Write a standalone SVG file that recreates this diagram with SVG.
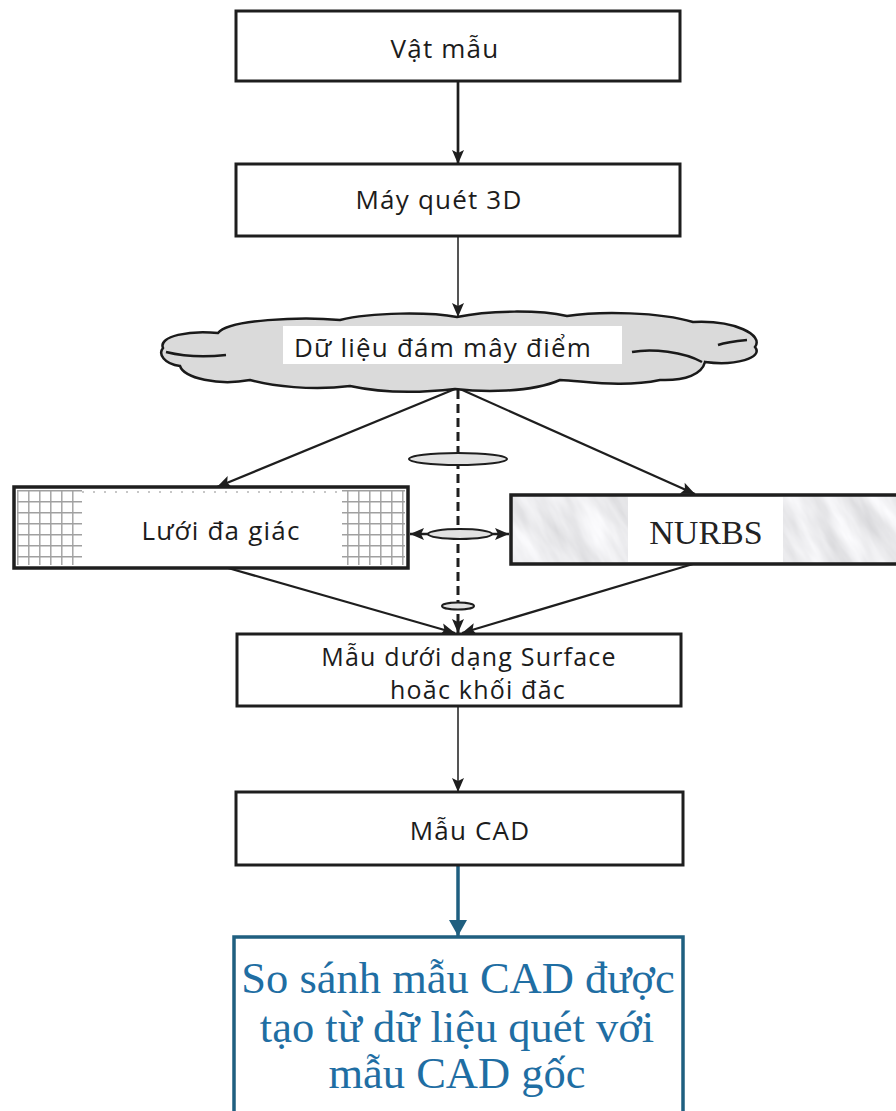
<svg xmlns="http://www.w3.org/2000/svg" width="896" height="1111" viewBox="0 0 896 1111">
  <style>
    .box { fill: #ffffff; stroke: #1e1e1e; stroke-width: 3; }
    .lbl { font-family: "Open Sans", "Noto Sans", "DejaVu Sans", sans-serif; font-size: 26px; letter-spacing: 1.2px; fill: #1c1c1c; }
    .lbl-sm { font-size: 25px; }
    .conn { fill: none; stroke: #1e1e1e; stroke-width: 2.2; }
    .conn-bold { fill: none; stroke: #1e1e1e; stroke-width: 2.7; }
    .conn-grey { fill: none; stroke: #555555; stroke-width: 2; }
    .conn-dash { fill: none; stroke: #1e1e1e; stroke-width: 3; stroke-dasharray: 9 5; }
    .conn-blue { fill: none; stroke: #1f5f80; stroke-width: 3.5; }
    .lens { fill: #e2e2e2; stroke: #1e1e1e; stroke-width: 2; }
    .blue-txt { font-family: "Liberation Serif", "DejaVu Serif", serif; font-size: 44.5px; fill: #1f6ea3; }
  </style>
  <defs>
    <marker id="arr" markerUnits="userSpaceOnUse" markerWidth="16" markerHeight="16" viewBox="0 0 16 16" refX="15" refY="8" orient="auto">
      <path d="M1,2 L15,8 L1,14 L4,8 Z" fill="#1e1e1e"/>
    </marker>
    <marker id="arr-start" markerUnits="userSpaceOnUse" markerWidth="16" markerHeight="16" viewBox="0 0 16 16" refX="1" refY="8" orient="auto">
      <path d="M15,2 L1,8 L15,14 L12,8 Z" fill="#1e1e1e"/>
    </marker>
    <marker id="arr-blue" markerUnits="userSpaceOnUse" markerWidth="20" markerHeight="20" viewBox="0 0 20 20" refX="18" refY="10" orient="auto">
      <path d="M2,1 L18,10 L2,19 Z" fill="#1f5f80"/>
    </marker>
    <pattern id="grid" width="11" height="11" patternUnits="userSpaceOnUse" x="17" y="490">
      <path d="M0,0.8 H11 M0.8,0 V11" stroke="#a0a0a0" stroke-width="1.4" fill="none"/>
    </pattern>
    <filter id="marble" x="0" y="0" width="1" height="1">
      <feTurbulence type="fractalNoise" baseFrequency="0.05 0.012" numOctaves="4" seed="7"/>
      <feColorMatrix type="matrix" values="0.4 0 0 0 0.64  0.4 0 0 0 0.64  0.4 0 0 0 0.66  0 0 0 0 1"/>
    </filter>
    <clipPath id="nurbs-clip">
      <rect x="511" y="495" width="400" height="69"/>
    </clipPath>
  </defs>

  <!-- connectors -->
  <g id="connectors">
    <line class="conn-bold" x1="458" y1="81" x2="458" y2="164" marker-end="url(#arr)"/>
    <line class="conn-grey" x1="458" y1="236" x2="458" y2="317" marker-end="url(#arr)"/>
    <line class="conn" x1="455" y1="389" x2="217" y2="487" marker-end="url(#arr)"/>
    <line class="conn" x1="460" y1="389" x2="695" y2="494" marker-end="url(#arr)"/>
    <line class="conn-dash" x1="458" y1="390" x2="458" y2="633" marker-end="url(#arr)"/>
    <line class="conn-bold" x1="410" y1="534" x2="509" y2="534" marker-start="url(#arr-start)" marker-end="url(#arr)"/>
    <line class="conn" x1="228" y1="568" x2="455" y2="633" marker-end="url(#arr)"/>
    <line class="conn" x1="693" y1="564" x2="462" y2="633" marker-end="url(#arr)"/>
    <ellipse class="lens" cx="458" cy="459" rx="49" ry="6"/>
    <ellipse class="lens" cx="460" cy="534" rx="32" ry="5"/>
    <ellipse class="lens" cx="458" cy="606" rx="16" ry="3.5"/>
    <line class="conn-grey" x1="458" y1="706" x2="458" y2="792" marker-end="url(#arr)"/>
    <line class="conn-blue" x1="458" y1="865" x2="458" y2="936" marker-end="url(#arr-blue)"/>
  </g>

  <!-- object sample -->
  <g id="node-vat-mau">
    <rect class="box" x="236" y="11" width="444" height="70"/>
    <text class="lbl" x="445" y="58" text-anchor="middle">Vật mẫu</text>
  </g>

  <!-- 3D scanner -->
  <g id="node-may-quet">
    <rect class="box" x="236" y="164" width="444" height="72"/>
    <text class="lbl" x="439" y="209" text-anchor="middle">Máy quét 3D</text>
  </g>

  <!-- point cloud -->
  <g id="node-point-cloud">
    <path d="M163,348 C158,336 190,330 218,333 C228,320 300,316 340,320 C372,312 430,312 457,317 C490,310 540,310 567,316 C600,311 660,312 693,322 C735,320 764,335 755,347 C764,358 735,366 705,362 C702,374 686,381 660,380 C622,388 585,381 560,380 C530,393 482,392 455,389 C420,393 382,393 350,386 C312,391 272,386 250,380 C218,386 184,378 180,366 C164,364 158,354 163,348 Z" fill="#dadada" stroke="#1a1a1a" stroke-width="2.5"/>
    <path d="M166,352 C186,357 208,357 226,355 M747,340 C737,341 727,342 718,345 M632,352 C652,348 684,352 702,362" fill="none" stroke="#1a1a1a" stroke-width="2.5"/>
    <rect x="283" y="326" width="339" height="38" fill="#ffffff"/>
    <text class="lbl" x="443" y="357" text-anchor="middle">Dữ liệu đám mây điểm</text>
  </g>

  <!-- polygon mesh -->
  <g id="node-mesh">
    <rect x="14" y="487" width="394" height="81" fill="#ffffff"/>
    <rect x="17" y="490" width="65" height="75" fill="url(#grid)"/>
    <rect x="342" y="490" width="63" height="75" fill="url(#grid)"/>
    <line x1="82" y1="492" x2="342" y2="492" stroke="#b5b5b5" stroke-width="1.5" stroke-dasharray="2 9"/>
    <rect x="14" y="487" width="394" height="81" fill="none" stroke="#1e1e1e" stroke-width="3.5"/>
    <text class="lbl" x="221" y="540" text-anchor="middle">Lưới đa giác</text>
  </g>

  <!-- NURBS surface -->
  <g id="node-nurbs">
    <g clip-path="url(#nurbs-clip)">
      <rect x="380" y="360" width="650" height="340" filter="url(#marble)" transform="rotate(-30 706 530)"/>
    </g>
    <rect x="628" y="497" width="155" height="65" fill="#ffffff"/>
    <rect x="511" y="495" width="400" height="69" fill="none" stroke="#1e1e1e" stroke-width="3.5"/>
    <text x="706" y="544" text-anchor="middle" font-family="Liberation Serif, DejaVu Serif, serif" font-size="34" fill="#232323">NURBS</text>
  </g>

  <!-- surface / solid model -->
  <g id="node-surface">
    <rect class="box" x="237" y="634" width="444" height="72"/>
    <text class="lbl lbl-sm" x="469" y="666" text-anchor="middle">Mẫu dưới dạng Surface</text>
    <text class="lbl lbl-sm" x="478" y="699" text-anchor="middle">hoăc khối đăc</text>
  </g>

  <!-- CAD model -->
  <g id="node-cad">
    <rect class="box" x="236" y="792" width="447" height="73"/>
    <text class="lbl" x="470" y="840" text-anchor="middle">Mẫu CAD</text>
  </g>

  <!-- comparison -->
  <g id="node-compare">
    <rect x="234" y="937" width="449" height="200" fill="#ffffff" stroke="#1f5f80" stroke-width="3.5"/>
    <text class="blue-txt" x="458" y="993" text-anchor="middle">So sánh mẫu CAD được</text>
    <text class="blue-txt" x="457" y="1042" text-anchor="middle">tạo từ dữ liệu quét với</text>
    <text class="blue-txt" x="457" y="1088" text-anchor="middle">mẫu CAD gốc</text>
  </g>
</svg>
